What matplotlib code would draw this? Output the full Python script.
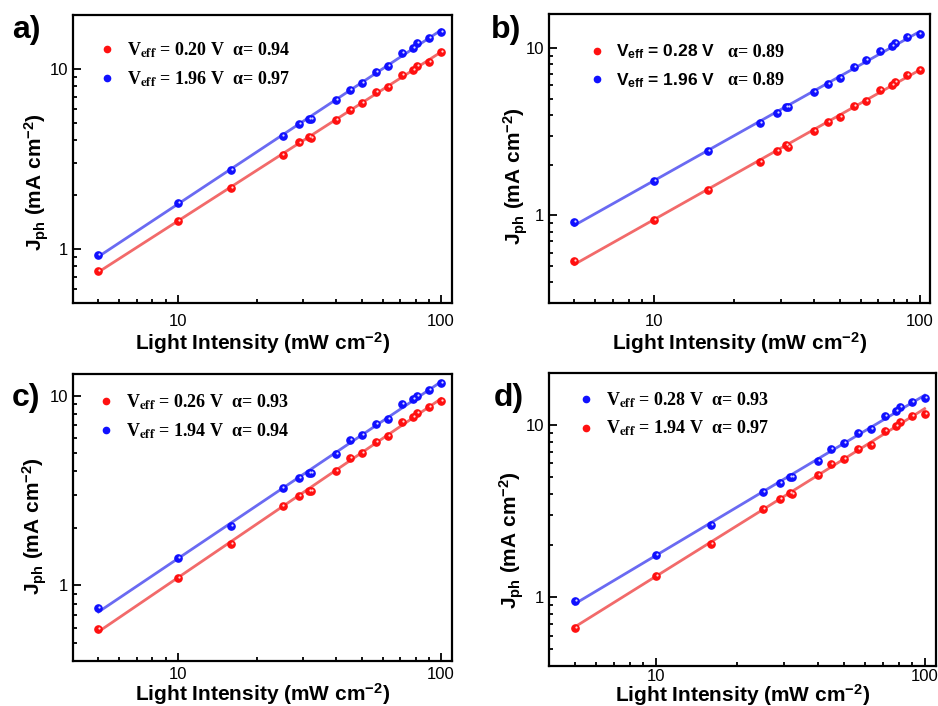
import numpy as np
import matplotlib
matplotlib.use("Agg")
import matplotlib.pyplot as plt
from matplotlib.transforms import offset_copy
from matplotlib.font_manager import FontProperties

plt.rcParams['font.family'] = ['Liberation Sans', 'DejaVu Sans']
plt.rcParams['mathtext.fontset'] = 'custom'
plt.rcParams['mathtext.rm'] = 'Liberation Sans:bold'
plt.rcParams['mathtext.bf'] = 'Liberation Sans:bold'
plt.rcParams['mathtext.it'] = 'Liberation Sans:bold:italic'

# light intensity (mW cm-2)
x_int = [5, 10, 16, 25, 29, 31.5, 32, 40, 45, 50, 56.5, 63, 71, 78.5, 81, 90, 100]

# photocurrent (mA cm-2)
a_low = [0.755, 1.42, 2.19, 3.33, 3.90, 4.21, 4.12, 5.21, 5.94, 6.50, 7.42, 7.91, 9.22, 9.84, 10.4, 11.0, 12.4]
a_high = [0.92, 1.79, 2.75, 4.24, 4.97, 5.27, 5.30, 6.76, 7.64, 8.36, 9.58, 10.35, 12.2, 13.0, 13.9, 14.8, 16.1]
b_low = [0.535, 0.94, 1.42, 2.10, 2.42, 2.64, 2.57, 3.21, 3.62, 3.88, 4.53, 4.86, 5.63, 6.0, 6.28, 6.92, 7.38]
b_high = [0.916, 1.61, 2.42, 3.57, 4.10, 4.43, 4.43, 5.45, 6.11, 6.61, 7.73, 8.51, 9.59, 10.3, 10.8, 11.6, 12.2]
c_low = [0.589, 1.10, 1.66, 2.63, 2.96, 3.16, 3.14, 4.01, 4.70, 5.01, 5.73, 6.16, 7.24, 7.72, 8.14, 8.68, 9.37]
c_high = [0.76, 1.40, 2.05, 3.25, 3.67, 3.90, 3.90, 4.91, 5.82, 6.18, 7.10, 7.57, 9.03, 9.60, 9.96, 10.7, 11.7]
d_low = [0.953, 1.76, 2.62, 4.06, 4.58, 4.98, 4.98, 6.16, 7.27, 7.84, 8.95, 9.44, 11.2, 12.0, 12.7, 13.6, 14.4]
d_high = [0.668, 1.33, 2.05, 3.26, 3.73, 4.05, 3.99, 5.12, 5.95, 6.36, 7.23, 7.69, 9.23, 9.82, 10.4, 11.2, 11.6]

veff = [("0.20", "1.96"), ("0.28", "1.96"), ("0.26", "1.94"), ("0.28", "1.94")]
alphas = [("0.94", "0.97"), ("0.89", "0.89"), ("0.93", "0.94"), ("0.93", "0.97")]
letters = ["a)", "b)", "c)", "d)"]
ylims = [(0.5, 20), (0.3, 16), (0.4, 13), (0.4, 20)]

RED, BLUE = "#ff1010", "#1010ff"
RED_L, BLUE_L = "#f26a6a", "#6a6af2"

panels = [
    (a_low, a_high, RED, BLUE),
    (b_low, b_high, RED, BLUE),
    (c_low, c_high, RED, BLUE),
    (d_low, d_high, BLUE, RED),
]

fig = plt.figure(figsize=(9.38, 7.06), dpi=100)
rects = [
    [0.0778, 0.571, 0.404, 0.408],
    [0.585, 0.571, 0.407, 0.409],
    [0.0778, 0.0637, 0.404, 0.4065],
    [0.585, 0.0567, 0.4126, 0.415],
]
letter_pos = [(0.028, 0.957), (0.539, 0.957), (0.028, 0.436), (0.542, 0.436)]
leg_anchor = [(0.052, 0.935), (0.09, 0.925), (0.05, 0.96), (0.06, 0.965)]
ylab_pos = [(-0.058, 0.42), (-0.05, 0.44), (-0.062, 0.47), (-0.058, 0.43)]
xlab_pad = [1, 1, 0, -1.5]
xtick_pad = [8, 8, 4, 2]

serif_prop = FontProperties(family='Liberation Serif', weight='bold', size=13, math_fontfamily='stix')
sans_prop = FontProperties(family='Liberation Sans', weight='bold', size=12.5)

x = np.array(x_int)
for i, (lo, hi, c1, c2) in enumerate(panels):
    ax = fig.add_axes(rects[i])
    ax.set_xscale('log')
    ax.set_yscale('log')
    handles = []
    for ys, col in ((lo, c1), (hi, c2)):
        ys = np.array(ys)
        # power law fit on log-log
        p = np.polyfit(np.log10(x), np.log10(ys), 1)
        xf = np.array([x.min(), x.max()])
        lcol = RED_L if col == RED else BLUE_L
        ax.plot(xf, 10 ** np.polyval(p, np.log10(xf)), color=lcol, lw=2, zorder=2)
        ax.plot(x, ys, 'o', color=col, ms=5.2, mec=col, zorder=3)
        shine = offset_copy(ax.transData, fig=fig, x=0.7, y=0.7, units='points')
        ax.plot(x, ys, 'o', color='white', ms=1.6, mew=0, alpha=0.85,
                transform=shine, zorder=4)
        h, = ax.plot([], [], 'o', color=col, ms=4.5)
        handles.append(h)

    v1, v2 = veff[i]
    a1, a2 = alphas[i]
    if i == 1:
        labels = [r'V$_{\mathbf{eff}}$ = %s V' % v1, r'V$_{\mathbf{eff}}$ = %s V' % v2]
        leg = ax.legend(handles, labels, loc='upper left', bbox_to_anchor=leg_anchor[i],
                        frameon=False, prop=sans_prop, handlelength=0.8,
                        handletextpad=0.7, labelspacing=0.55, borderaxespad=0)
        for t, a in zip(leg.get_texts(), (a1, a2)):
            ax.annotate('α= %s' % a, xy=(1, 0.5), xycoords=t, xytext=(9, 0),
                        textcoords='offset points', va='center', ha='left',
                        fontproperties=serif_prop, zorder=10)
    else:
        labels = [r'V$_{\mathbf{eff}}$ = %s V  α= %s' % (v1, a1),
                  r'V$_{\mathbf{eff}}$ = %s V  α= %s' % (v2, a2)]
        leg = ax.legend(handles, labels, loc='upper left', bbox_to_anchor=leg_anchor[i],
                        frameon=False, prop=serif_prop, handlelength=0.8,
                        handletextpad=0.7, labelspacing=0.5, borderaxespad=0)

    ax.set_xlim(4, 110)
    ax.set_ylim(*ylims[i])
    ax.set_xticks([10, 100])
    ax.set_xticklabels(['10', '100'])
    ax.set_yticks([1, 10])
    ax.set_yticklabels(['1', '10'])
    ax.tick_params(which='both', direction='in', width=1.3, labelsize=12)
    ax.tick_params(which='major', length=6)
    ax.tick_params(which='minor', length=3)
    ax.tick_params(axis='x', pad=xtick_pad[i])
    for s in ax.spines.values():
        s.set_linewidth(1.6)
    ax.set_xlabel(r'Light Intensity (mW cm$^{\mathbf{-2}}$)', fontsize=15,
                  fontweight='bold', labelpad=xlab_pad[i])
    ax.set_ylabel(r'J$_{\mathbf{ph}}$ (mA cm$^{\mathbf{-2}}$)', fontsize=15,
                  fontweight='bold')
    ax.yaxis.set_label_coords(*ylab_pos[i])
    fig.text(letter_pos[i][0], letter_pos[i][1], letters[i], fontsize=23,
             fontweight='bold', ha='center', va='center')

fig.canvas.draw()
fig.savefig("out.png", dpi=100)
